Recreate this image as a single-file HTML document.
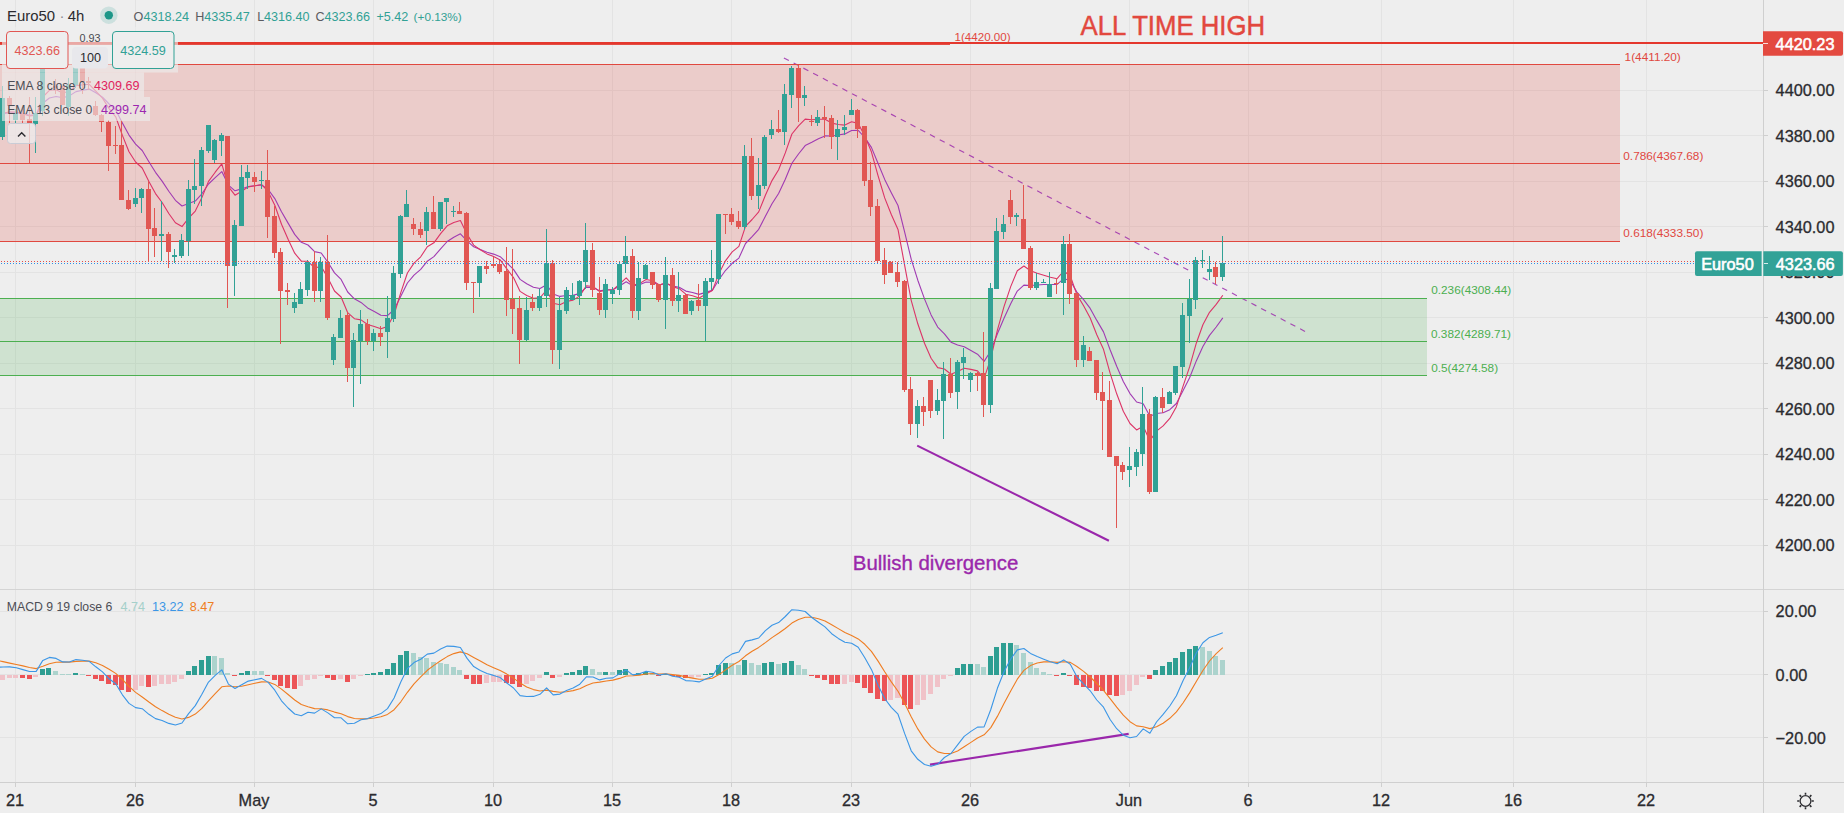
<!DOCTYPE html>
<html lang="en"><head><meta charset="utf-8"><title>Euro50 4h chart</title>
<style>html,body{margin:0;padding:0;background:#eeeeee;}body{width:1844px;height:813px;overflow:hidden;}svg{display:block;}</style>
</head><body>
<svg width="1844" height="813" viewBox="0 0 1844 813" font-family='"Liberation Sans", sans-serif'>
<rect width="1844" height="813" fill="#eeeeee"/>
<path d="M15.5 0V782M135.5 0V782M254.5 0V782M373.5 0V782M493.5 0V782M612.5 0V782M731.5 0V782M851.5 0V782M970.5 0V782M1129.5 0V782M1248.5 0V782M1381.5 0V782M1513.5 0V782M1646.5 0V782M0 545.5H1763M0 499.5H1763M0 454.5H1763M0 408.5H1763M0 363.5H1763M0 317.5H1763M0 272.5H1763M0 226.5H1763M0 181.5H1763M0 135.5H1763M0 90.5H1763M0 611.5H1763M0 674.5H1763M0 737.5H1763" stroke="#e3e3e3" stroke-width="1" fill="none" shape-rendering="crispEdges"/>
<rect x="0" y="64.5" width="1620" height="177" fill="rgba(226,70,62,0.2)"/>
<rect x="0" y="298.5" width="1427" height="77" fill="rgba(76,175,80,0.19)"/>
<line x1="783.9" y1="57.9" x2="1305" y2="331.4" stroke="#9a27ab" stroke-opacity="0.82" stroke-width="1.15" stroke-dasharray="5.6 5.4"/>
<path d="M0 64.5H1620M0 163.5H1620M0 241.5H1620" stroke="#e0483f" stroke-width="1" shape-rendering="crispEdges"/>
<path d="M0 298.5H1427M0 341.5H1427M0 375.5H1427" stroke="#4caf50" stroke-width="1" shape-rendering="crispEdges"/>
<rect x="0" y="42" width="1764" height="2" fill="#e4372d"/>
<rect x="0" y="44" width="950" height="1" fill="#e34c42"/>
<polyline points="-3.6,114.9 3.0,113.8 9.7,112.7 16.3,112.8 22.9,113.8 29.5,115.2 36.2,114.9 42.8,103.2 49.4,98.0 56.1,96.5 62.7,97.7 69.3,95.9 76.0,91.6 82.6,90.2 89.2,89.1 95.8,92.8 102.5,97.1 109.1,104.0 115.7,109.9 122.4,122.9 129.0,135.1 135.6,144.1 142.2,150.5 148.9,161.7 155.5,172.3 162.1,181.1 168.8,191.2 175.4,200.3 182.0,206.0 188.6,203.6 195.3,201.1 201.9,193.8 208.5,184.0 215.2,177.7 221.8,171.6 228.4,185.1 235.0,190.8 241.7,188.9 248.3,186.5 254.9,185.8 261.6,185.0 268.2,189.5 274.8,198.6 281.5,211.7 288.1,223.1 294.7,234.4 301.3,242.3 308.0,245.0 314.6,251.6 321.2,253.0 327.9,262.2 334.5,272.9 341.1,279.4 347.7,292.0 354.4,298.8 361.0,302.4 367.6,307.9 374.3,311.5 380.9,315.2 387.5,315.6 394.1,309.5 400.8,296.2 407.4,283.0 414.0,275.2 420.7,269.4 427.3,261.2 433.9,256.6 440.6,248.8 447.2,241.5 453.8,237.2 460.4,233.8 467.1,240.8 473.7,246.8 480.3,249.5 487.0,252.3 493.6,254.1 500.2,256.7 506.8,262.8 513.5,269.4 520.1,279.4 526.7,283.8 533.4,287.2 540.0,288.5 546.6,284.8 553.2,294.1 559.9,296.4 566.5,295.5 573.1,295.4 579.8,293.4 586.4,287.2 593.0,287.5 599.6,290.7 606.3,289.7 612.9,289.7 619.5,286.0 626.2,281.8 632.8,285.9 639.4,284.8 646.1,282.0 652.7,282.4 659.3,284.9 665.9,283.5 672.6,286.0 679.2,287.3 685.8,291.1 692.5,292.5 699.1,294.4 705.7,292.4 712.3,290.4 719.0,279.5 725.6,270.3 732.2,263.3 738.9,258.1 745.5,243.5 752.1,236.7 758.7,229.3 765.4,216.2 772.0,203.7 778.6,193.5 785.3,179.2 791.9,163.3 798.5,154.0 805.2,145.6 811.8,142.3 818.4,138.7 825.0,135.9 831.7,136.0 838.3,135.0 844.9,133.9 851.6,130.5 858.2,130.3 864.8,137.5 871.4,147.4 878.1,163.5 884.7,179.4 891.3,192.7 898.0,205.5 904.6,231.8 911.2,259.2 917.8,280.2 924.5,298.9 931.1,314.9 937.7,327.1 944.4,333.8 951.0,342.2 957.6,345.0 964.2,346.8 970.9,350.5 977.5,354.2 984.1,361.4 990.8,351.0 997.4,333.8 1004.0,318.2 1010.7,303.7 1017.3,291.1 1023.9,285.1 1030.5,285.5 1037.2,285.0 1043.8,284.5 1050.4,284.5 1057.1,284.4 1063.7,278.6 1070.3,280.8 1076.9,292.1 1083.6,299.6 1090.2,308.4 1096.8,320.4 1103.5,331.9 1110.1,349.7 1116.7,366.3 1123.3,381.5 1130.0,393.6 1136.6,402.0 1143.2,403.7 1149.9,416.2 1156.5,413.5 1163.1,412.7 1169.8,409.7 1176.4,403.5 1183.0,390.8 1189.6,377.7 1196.3,360.9 1202.9,346.5 1209.5,335.4 1216.2,327.0 1222.8,317.9" fill="none" stroke="#a03ab2" stroke-width="1.1" stroke-linejoin="round"/>
<polyline points="-3.6,114.8 3.0,113.3 9.7,111.8 16.3,112.0 22.9,113.8 29.5,116.0 36.2,115.3 42.8,97.0 49.4,90.3 56.1,89.7 62.7,93.0 69.3,91.3 76.0,85.7 82.6,84.7 89.2,84.3 95.8,91.2 102.5,98.1 109.1,108.6 115.7,116.8 122.4,135.4 129.0,151.7 135.6,162.0 142.2,168.0 148.9,181.6 155.5,193.6 162.1,202.5 168.8,213.5 175.4,222.8 182.0,226.6 188.6,218.2 195.3,211.1 201.9,197.6 208.5,181.4 215.2,172.2 221.8,163.9 228.4,186.6 235.0,195.2 241.7,191.2 248.3,186.9 254.9,185.8 261.6,184.5 268.2,191.7 274.8,205.3 281.5,224.3 288.1,239.2 294.7,253.2 301.3,261.2 308.0,261.3 314.6,267.9 321.2,266.5 327.9,277.9 334.5,291.0 341.1,297.0 347.7,312.7 354.4,318.7 361.0,319.9 367.6,324.5 374.3,326.5 380.9,328.8 387.5,326.4 394.1,314.6 400.8,292.7 407.4,273.0 414.0,263.1 420.7,256.8 427.3,246.8 433.9,242.8 440.6,233.7 447.2,225.8 453.8,222.5 460.4,220.5 467.1,234.3 473.7,245.1 480.3,249.7 487.0,253.9 493.6,256.5 500.2,259.9 506.8,268.8 513.5,277.6 520.1,291.4 526.7,295.5 533.4,298.3 540.0,297.8 546.6,290.0 553.2,303.3 559.9,304.8 566.5,301.5 573.1,300.1 579.8,295.9 586.4,285.7 593.0,286.5 599.6,291.6 606.3,290.0 612.9,289.9 619.5,284.1 626.2,277.9 632.8,285.2 639.4,283.6 646.1,279.5 652.7,280.7 659.3,284.9 665.9,282.8 672.6,286.8 679.2,288.6 685.8,294.2 692.5,295.7 699.1,297.9 705.7,294.2 712.3,290.6 719.0,273.6 725.6,260.6 732.2,251.9 738.9,246.3 745.5,226.3 752.1,219.5 758.7,211.9 765.4,195.2 772.0,180.6 778.6,169.7 785.3,152.9 791.9,134.0 798.5,125.9 805.2,119.1 811.8,119.8 818.4,119.2 825.0,119.2 831.7,123.1 838.3,124.5 844.9,125.1 851.6,121.8 858.2,123.4 864.8,136.1 871.4,151.8 878.1,175.9 884.7,197.9 891.3,214.5 898.0,229.4 904.6,265.1 911.2,300.3 917.8,323.8 924.5,343.3 931.1,358.3 937.7,367.6 944.4,369.0 951.0,374.3 957.6,371.6 964.2,368.3 970.9,369.4 977.5,370.9 984.1,378.4 990.8,358.4 997.4,330.1 1004.0,306.6 1010.7,286.6 1017.3,270.8 1023.9,266.0 1030.5,270.8 1037.2,273.3 1043.8,275.2 1050.4,277.2 1057.1,278.7 1063.7,271.0 1070.3,276.0 1076.9,294.6 1083.6,305.8 1090.2,318.0 1096.8,334.7 1103.5,349.3 1110.1,373.2 1116.7,393.8 1123.3,411.3 1130.0,423.5 1136.6,429.9 1143.2,426.3 1149.9,440.8 1156.5,431.1 1163.1,425.9 1169.8,418.4 1176.4,406.7 1183.0,386.4 1189.6,366.9 1196.3,343.2 1202.9,324.7 1209.5,312.3 1216.2,304.4 1222.8,295.2" fill="none" stroke="#dc3467" stroke-width="1.1" stroke-linejoin="round"/>
<path d="M2 86h1V140h-1zM0 98h5V137h-5zM15 109h1V123h-1zM13 113h5V120h-5zM35 97h1V153h-1zM33 113h5V124h-5zM42 32h1V116h-1zM40 33h5V111h-5zM68 78h1V116h-1zM66 85h5V107h-5zM75 64h1V88h-1zM73 66h5V85h-5zM135 188h1V207h-1zM133 198h5V204h-5zM141 188h1V213h-1zM139 189h5V198h-5zM161 201h1V261h-1zM159 234h5V236h-5zM174 249h1V263h-1zM172 255h5V257h-5zM181 234h1V258h-1zM179 240h5V256h-5zM188 180h1V256h-1zM186 189h5V241h-5zM194 159h1V204h-1zM192 186h5V190h-5zM201 147h1V206h-1zM199 150h5V186h-5zM208 125h1V153h-1zM206 125h5V151h-5zM214 139h1V163h-1zM212 140h5V160h-5zM221 133h1V156h-1zM219 135h5V141h-5zM234 220h1V296h-1zM232 225h5V266h-5zM241 165h1V226h-1zM239 177h5V226h-5zM247 165h1V189h-1zM245 172h5V178h-5zM261 171h1V189h-1zM259 180h5V181h-5zM294 293h1V313h-1zM292 302h5V308h-5zM300 282h1V304h-1zM298 289h5V304h-5zM307 260h1V296h-1zM305 262h5V290h-5zM320 257h1V302h-1zM318 262h5V291h-5zM333 334h1V365h-1zM331 337h5V360h-5zM340 310h1V338h-1zM338 318h5V338h-5zM353 333h1V407h-1zM351 340h5V368h-5zM360 310h1V384h-1zM358 324h5V341h-5zM373 329h1V351h-1zM371 333h5V341h-5zM387 296h1V358h-1zM385 318h5V332h-5zM393 266h1V322h-1zM391 273h5V319h-5zM400 215h1V278h-1zM398 216h5V274h-5zM406 190h1V217h-1zM404 204h5V217h-5zM426 207h1V245h-1zM424 212h5V231h-5zM440 202h1V231h-1zM438 202h5V229h-5zM446 198h1V224h-1zM444 198h5V202h-5zM453 206h1V217h-1zM451 211h5V212h-5zM479 266h1V297h-1zM477 266h5V283h-5zM526 297h1V341h-1zM524 310h5V340h-5zM539 289h1V311h-1zM537 296h5V308h-5zM546 229h1V307h-1zM544 263h5V296h-5zM559 297h1V369h-1zM557 310h5V350h-5zM566 287h1V314h-1zM564 290h5V311h-5zM572 283h1V300h-1zM570 295h5V300h-5zM579 280h1V305h-1zM577 281h5V296h-5zM585 223h1V289h-1zM583 250h5V282h-5zM605 279h1V318h-1zM603 284h5V310h-5zM612 287h1V304h-1zM610 290h5V294h-5zM619 261h1V295h-1zM617 264h5V290h-5zM625 236h1V273h-1zM623 256h5V264h-5zM638 262h1V320h-1zM636 278h5V311h-5zM645 264h1V279h-1zM643 265h5V279h-5zM665 257h1V329h-1zM663 275h5V300h-5zM678 272h1V312h-1zM676 295h5V301h-5zM691 300h1V315h-1zM689 301h5V311h-5zM705 278h1V341h-1zM703 281h5V306h-5zM711 250h1V290h-1zM709 278h5V282h-5zM718 214h1V284h-1zM716 214h5V279h-5zM744 145h1V230h-1zM742 156h5V227h-5zM758 158h1V209h-1zM756 185h5V196h-5zM764 135h1V189h-1zM762 137h5V186h-5zM771 120h1V139h-1zM769 129h5V135h-5zM784 84h1V145h-1zM782 94h5V132h-5zM791 66h1V108h-1zM789 68h5V95h-5zM804 86h1V106h-1zM802 95h5V98h-5zM817 110h1V126h-1zM815 117h5V123h-5zM837 120h1V160h-1zM835 129h5V137h-5zM844 115h1V135h-1zM842 127h5V130h-5zM851 99h1V115h-1zM849 110h5V115h-5zM917 400h1V438h-1zM915 406h5V424h-5zM937 389h1V415h-1zM935 400h5V411h-5zM943 362h1V439h-1zM941 374h5V401h-5zM957 360h1V409h-1zM955 362h5V392h-5zM963 348h1V379h-1zM961 357h5V363h-5zM970 372h1V392h-1zM968 373h5V380h-5zM990 283h1V413h-1zM988 288h5V405h-5zM996 218h1V289h-1zM994 231h5V289h-5zM1003 215h1V239h-1zM1001 224h5V232h-5zM1016 213h1V226h-1zM1014 215h5V217h-5zM1036 273h1V290h-1zM1034 282h5V288h-5zM1043 279h1V283h-1zM1041 282h5V283h-5zM1049 272h1V297h-1zM1047 284h5V297h-5zM1063 236h1V315h-1zM1061 244h5V283h-5zM1083 336h1V367h-1zM1081 345h5V360h-5zM1129 447h1V487h-1zM1127 466h5V470h-5zM1136 449h1V476h-1zM1134 452h5V467h-5zM1142 387h1V466h-1zM1140 414h5V454h-5zM1155 396h1V492h-1zM1153 397h5V492h-5zM1169 391h1V404h-1zM1167 392h5V404h-5zM1175 366h1V395h-1zM1173 366h5V393h-5zM1182 303h1V378h-1zM1180 315h5V367h-5zM1189 279h1V343h-1zM1187 299h5V316h-5zM1195 257h1V309h-1zM1193 260h5V300h-5zM1202 250h1V268h-1zM1200 260h5V261h-5zM1209 256h1V280h-1zM1207 269h5V272h-5zM1222 236h1V281h-1zM1220 263h5V277h-5z" fill="#31a195" shape-rendering="crispEdges"/>
<path d="M9 96h1V123h-1zM7 98h5V106h-5zM22 109h1V123h-1zM20 114h5V120h-5zM29 97h1V163h-1zM27 119h5V123h-5zM48 33h1V68h-1zM46 34h5V67h-5zM55 79h1V94h-1zM53 86h5V88h-5zM62 86h1V105h-1zM60 86h5V105h-5zM82 64h1V94h-1zM80 66h5V82h-5zM88 77h1V90h-1zM86 81h5V83h-5zM95 101h1V116h-1zM93 106h5V115h-5zM101 114h1V132h-1zM99 115h5V122h-5zM108 120h1V171h-1zM106 122h5V146h-5zM115 126h1V154h-1zM113 145h5V146h-5zM121 120h1V200h-1zM119 145h5V200h-5zM128 190h1V210h-1zM126 200h5V209h-5zM148 181h1V262h-1zM146 189h5V229h-5zM154 208h1V257h-1zM152 228h5V236h-5zM168 232h1V268h-1zM166 234h5V252h-5zM227 136h1V308h-1zM225 136h5V266h-5zM254 172h1V192h-1zM252 177h5V182h-5zM267 150h1V238h-1zM265 180h5V217h-5zM274 206h1V258h-1zM272 216h5V253h-5zM280 248h1V344h-1zM278 252h5V291h-5zM287 283h1V305h-1zM285 290h5V292h-5zM314 251h1V302h-1zM312 262h5V291h-5zM327 235h1V320h-1zM325 262h5V318h-5zM347 312h1V382h-1zM345 315h5V368h-5zM367 319h1V345h-1zM365 324h5V341h-5zM380 326h1V346h-1zM378 333h5V337h-5zM413 218h1V235h-1zM411 224h5V229h-5zM420 222h1V238h-1zM418 229h5V235h-5zM433 196h1V229h-1zM431 212h5V229h-5zM459 202h1V214h-1zM457 211h5V214h-5zM466 212h1V290h-1zM464 213h5V283h-5zM473 282h1V313h-1zM471 282h5V283h-5zM486 261h1V274h-1zM484 266h5V269h-5zM493 257h1V268h-1zM491 264h5V266h-5zM499 260h1V274h-1zM497 264h5V272h-5zM506 247h1V316h-1zM504 271h5V300h-5zM512 249h1V334h-1zM510 299h5V309h-5zM519 296h1V364h-1zM517 308h5V340h-5zM532 294h1V311h-1zM530 302h5V308h-5zM552 260h1V364h-1zM550 263h5V350h-5zM592 243h1V297h-1zM590 250h5V290h-5zM599 277h1V315h-1zM597 293h5V310h-5zM632 249h1V318h-1zM630 256h5V311h-5zM652 272h1V289h-1zM650 272h5V285h-5zM658 284h1V302h-1zM656 284h5V300h-5zM672 268h1V306h-1zM670 275h5V301h-5zM685 294h1V314h-1zM683 295h5V314h-5zM698 284h1V311h-1zM696 300h5V306h-5zM725 214h1V234h-1zM723 214h5V215h-5zM731 208h1V225h-1zM729 214h5V222h-5zM738 211h1V229h-1zM736 221h5V227h-5zM751 138h1V200h-1zM749 156h5V196h-5zM778 110h1V133h-1zM776 129h5V132h-5zM798 65h1V122h-1zM796 68h5V98h-5zM811 115h1V126h-1zM809 121h5V122h-5zM824 106h1V138h-1zM822 117h5V119h-5zM831 115h1V149h-1zM829 118h5V137h-5zM857 109h1V138h-1zM855 110h5V129h-5zM864 126h1V186h-1zM862 126h5V181h-5zM870 162h1V216h-1zM868 180h5V207h-5zM877 199h1V263h-1zM875 206h5V261h-5zM884 248h1V284h-1zM882 260h5V275h-5zM890 261h1V273h-1zM888 262h5V273h-5zM897 262h1V287h-1zM895 272h5V282h-5zM904 280h1V392h-1zM902 281h5V390h-5zM910 377h1V435h-1zM908 389h5V424h-5zM923 397h1V426h-1zM921 406h5V412h-5zM930 380h1V418h-1zM928 380h5V411h-5zM950 358h1V398h-1zM948 374h5V393h-5zM977 372h1V391h-1zM975 373h5V376h-5zM983 332h1V417h-1zM981 373h5V405h-5zM1010 190h1V224h-1zM1008 200h5V217h-5zM1023 185h1V249h-1zM1021 219h5V249h-5zM1030 246h1V290h-1zM1028 248h5V288h-5zM1056 278h1V294h-1zM1054 283h5V284h-5zM1069 234h1V304h-1zM1067 244h5V294h-5zM1076 293h1V367h-1zM1074 293h5V360h-5zM1089 347h1V361h-1zM1087 351h5V361h-5zM1096 360h1V400h-1zM1094 360h5V393h-5zM1102 372h1V450h-1zM1100 392h5V401h-5zM1109 381h1V457h-1zM1107 400h5V457h-5zM1116 456h1V528h-1zM1114 456h5V466h-5zM1122 462h1V480h-1zM1120 465h5V472h-5zM1149 409h1V494h-1zM1147 414h5V492h-5zM1162 388h1V413h-1zM1160 397h5V408h-5zM1215 262h1V284h-1zM1213 267h5V277h-5z" fill="#e15753" shape-rendering="crispEdges"/>
<path d="M1 261.5H1694" stroke="#e2504b" stroke-width="1" stroke-dasharray="1 2" fill="none" shape-rendering="crispEdges"/>
<path d="M1 263.5H1694" stroke="#2f8fe6" stroke-width="1" stroke-dasharray="1 2" fill="none" shape-rendering="crispEdges"/>
<line x1="917.2" y1="445.6" x2="1108.9" y2="540.7" stroke="#9a27ab" stroke-width="2.1"/>
<line x1="930" y1="764.6" x2="1128.7" y2="733.9" stroke="#9a27ab" stroke-width="2.1"/>
<text transform="translate(1080.6,35.1) scale(1,1.07)" font-size="25.75" fill="#e2483e" stroke="#e2483e" stroke-width="0.45">ALL TIME HIGH</text>
<text x="954.5" y="41.2" font-size="11.6" fill="#e2483e">1(4420.00)</text>
<text x="852.8" y="569.8" font-size="20.4" fill="#9a27ab" stroke="#9a27ab" stroke-width="0.35">Bullish divergence</text>
<text x="1624.6" y="60.5" font-size="11.8" fill="#e0483f">1(4411.20)</text>
<text x="1623.3" y="159.7" font-size="11.8" fill="#e0483f">0.786(4367.68)</text>
<text x="1623.3" y="237.3" font-size="11.8" fill="#e0483f">0.618(4333.50)</text>
<text x="1431.2" y="294.3" font-size="11.8" fill="#4caf50">0.236(4308.44)</text>
<text x="1431" y="337.7" font-size="11.8" fill="#4caf50">0.382(4289.71)</text>
<text x="1431.2" y="371.5" font-size="11.8" fill="#4caf50">0.5(4274.58)</text>
<path d="M40 669h5V675h-5zM46 668h5V675h-5zM73 673h5V675h-5zM186 671h5V675h-5zM192 666h5V675h-5zM199 660h5V675h-5zM206 656h5V675h-5zM239 673h5V675h-5zM245 671h5V675h-5zM365 674h5V675h-5zM371 673h5V675h-5zM378 672h5V675h-5zM385 669h5V675h-5zM391 663h5V675h-5zM398 655h5V675h-5zM404 651h5V675h-5zM544 672h5V675h-5zM564 673h5V675h-5zM570 672h5V675h-5zM577 670h5V675h-5zM583 666h5V675h-5zM603 672h5V675h-5zM617 670h5V675h-5zM623 669h5V675h-5zM636 673h5V675h-5zM643 672h5V675h-5zM663 674h5V675h-5zM703 674h5V675h-5zM709 673h5V675h-5zM716 665h5V675h-5zM723 663h5V675h-5zM742 660h5V675h-5zM762 663h5V675h-5zM769 662h5V675h-5zM782 663h5V675h-5zM789 661h5V675h-5zM955 668h5V675h-5zM961 664h5V675h-5zM968 664h5V675h-5zM988 656h5V675h-5zM994 647h5V675h-5zM1001 643h5V675h-5zM1008 643h5V675h-5zM1061 673h5V675h-5zM1153 670h5V675h-5zM1160 666h5V675h-5zM1167 662h5V675h-5zM1173 658h5V675h-5zM1180 652h5V675h-5zM1187 649h5V675h-5zM1193 646h5V675h-5z" fill="#2e9e92" shape-rendering="crispEdges"/>
<path d="M53 671h5V675h-5zM60 674h5V675h-5zM66 674h5V675h-5zM80 674h5V675h-5zM212 656h5V675h-5zM219 658h5V675h-5zM225 673h5V675h-5zM252 671h5V675h-5zM259 671h5V675h-5zM411 653h5V675h-5zM418 657h5V675h-5zM424 658h5V675h-5zM431 662h5V675h-5zM438 663h5V675h-5zM444 664h5V675h-5zM451 667h5V675h-5zM457 670h5V675h-5zM590 669h5V675h-5zM597 672h5V675h-5zM610 672h5V675h-5zM630 674h5V675h-5zM650 673h5V675h-5zM729 663h5V675h-5zM736 665h5V675h-5zM749 663h5V675h-5zM756 665h5V675h-5zM776 664h5V675h-5zM796 665h5V675h-5zM802 669h5V675h-5zM975 664h5V675h-5zM981 667h5V675h-5zM1014 645h5V675h-5zM1021 653h5V675h-5zM1028 662h5V675h-5zM1034 668h5V675h-5zM1041 672h5V675h-5zM1047 674h5V675h-5zM1200 647h5V675h-5zM1207 651h5V675h-5zM1213 656h5V675h-5zM1220 660h5V675h-5z" fill="#acd3cd" shape-rendering="crispEdges"/>
<path d="M20 675h5V678h-5zM27 675h5V679h-5zM86 675h5V676h-5zM93 675h5V679h-5zM99 675h5V681h-5zM106 675h5V684h-5zM113 675h5V685h-5zM119 675h5V690h-5zM126 675h5V692h-5zM146 675h5V687h-5zM232 675h5V676h-5zM265 675h5V676h-5zM272 675h5V680h-5zM278 675h5V686h-5zM285 675h5V688h-5zM292 675h5V689h-5zM325 675h5V678h-5zM331 675h5V680h-5zM345 675h5V682h-5zM464 675h5V679h-5zM471 675h5V684h-5zM477 675h5V684h-5zM504 675h5V683h-5zM510 675h5V684h-5zM517 675h5V687h-5zM550 675h5V678h-5zM656 675h5V676h-5zM670 675h5V676h-5zM676 675h5V677h-5zM683 675h5V678h-5zM809 675h5V676h-5zM815 675h5V678h-5zM822 675h5V680h-5zM829 675h5V684h-5zM835 675h5V684h-5zM855 675h5V683h-5zM862 675h5V688h-5zM868 675h5V693h-5zM875 675h5V699h-5zM882 675h5V701h-5zM902 675h5V705h-5zM908 675h5V709h-5zM1054 675h5V676h-5zM1067 675h5V676h-5zM1074 675h5V685h-5zM1081 675h5V687h-5zM1087 675h5V688h-5zM1094 675h5V691h-5zM1100 675h5V691h-5zM1107 675h5V695h-5zM1114 675h5V696h-5zM1147 675h5V679h-5z" fill="#ec5356" shape-rendering="crispEdges"/>
<path d="M0 675h5V680h-5zM7 675h5V678h-5zM13 675h5V678h-5zM33 675h5V677h-5zM133 675h5V690h-5zM139 675h5V686h-5zM152 675h5V686h-5zM159 675h5V684h-5zM166 675h5V684h-5zM172 675h5V682h-5zM179 675h5V679h-5zM298 675h5V686h-5zM305 675h5V680h-5zM312 675h5V679h-5zM318 675h5V676h-5zM338 675h5V679h-5zM351 675h5V679h-5zM358 675h5V676h-5zM484 675h5V683h-5zM491 675h5V682h-5zM497 675h5V682h-5zM524 675h5V684h-5zM530 675h5V681h-5zM537 675h5V678h-5zM557 675h5V677h-5zM689 675h5V678h-5zM696 675h5V677h-5zM842 675h5V684h-5zM849 675h5V682h-5zM888 675h5V700h-5zM895 675h5V698h-5zM915 675h5V705h-5zM921 675h5V700h-5zM928 675h5V694h-5zM935 675h5V687h-5zM941 675h5V679h-5zM948 675h5V676h-5zM1120 675h5V695h-5zM1127 675h5V691h-5zM1134 675h5V685h-5zM1140 675h5V677h-5z" fill="#f0c2c8" shape-rendering="crispEdges"/>
<polyline points="-3.6,660.2 3.0,661.6 9.7,663.1 16.3,664.5 22.9,665.9 29.5,667.5 36.2,668.6 42.8,666.3 49.4,663.7 56.1,662.2 62.7,662.1 69.3,662.1 76.0,661.4 82.6,661.1 89.2,661.1 95.8,662.8 102.5,665.4 109.1,669.2 115.7,673.4 122.4,679.5 129.0,686.3 135.6,692.4 142.2,697.0 148.9,702.0 155.5,706.7 162.1,710.6 168.8,714.3 175.4,717.3 182.0,719.0 188.6,717.4 195.3,714.1 201.9,708.4 208.5,700.9 215.2,693.6 221.8,686.8 228.4,686.0 235.0,686.7 241.7,686.2 248.3,684.7 254.9,683.3 261.6,681.9 268.2,682.0 274.8,684.4 281.5,689.1 288.1,694.5 294.7,700.0 301.3,704.5 308.0,706.7 314.6,708.6 321.2,708.7 327.9,709.9 334.5,712.1 341.1,713.8 347.7,716.6 354.4,718.5 361.0,718.9 367.6,718.8 374.3,718.0 380.9,716.7 387.5,714.4 394.1,709.7 400.8,701.8 407.4,692.3 414.0,683.8 420.7,676.8 427.3,670.3 433.9,665.4 440.6,660.7 447.2,656.6 453.8,653.6 460.4,651.9 467.1,653.8 473.7,657.4 480.3,661.1 487.0,664.7 493.6,667.7 500.2,670.6 506.8,674.1 513.5,678.1 520.1,683.1 526.7,686.9 533.4,689.6 540.0,691.0 546.6,690.1 553.2,691.4 559.9,692.2 566.5,691.7 573.1,690.6 579.8,688.8 586.4,685.4 593.0,683.0 599.6,682.1 606.3,681.0 612.9,680.1 619.5,678.4 626.2,676.0 632.8,675.7 639.4,675.1 646.1,674.0 652.7,673.5 659.3,674.0 665.9,673.9 672.6,674.6 679.2,675.4 685.8,676.9 692.5,678.1 699.1,679.2 705.7,679.1 712.3,678.3 719.0,674.6 725.6,669.9 732.2,665.3 738.9,661.5 745.5,655.8 752.1,651.2 758.7,647.4 765.4,642.6 772.0,637.6 778.6,633.3 785.3,628.5 791.9,623.1 798.5,619.4 805.2,617.2 811.8,617.3 818.4,618.7 825.0,621.0 831.7,624.7 838.3,628.6 844.9,632.5 851.6,635.6 858.2,638.9 864.8,644.3 871.4,651.4 878.1,661.1 884.7,671.8 891.3,681.9 898.0,691.2 904.6,703.2 911.2,716.8 917.8,728.9 924.5,739.1 931.1,746.9 937.7,751.9 944.4,753.5 951.0,753.5 957.6,751.0 964.2,746.8 970.9,742.4 977.5,738.0 984.1,734.8 990.8,727.6 997.4,716.4 1004.0,703.6 1010.7,690.9 1017.3,679.2 1023.9,670.4 1030.5,665.6 1037.2,663.0 1043.8,661.9 1050.4,661.8 1057.1,662.4 1063.7,661.7 1070.3,662.4 1076.9,666.5 1083.6,671.4 1090.2,677.0 1096.8,683.5 1103.5,690.3 1110.1,698.6 1116.7,707.2 1123.3,715.2 1130.0,721.7 1136.6,725.9 1143.2,726.8 1149.9,728.6 1156.5,726.7 1163.1,723.2 1169.8,718.3 1176.4,711.9 1183.0,703.0 1189.6,692.9 1196.3,681.5 1202.9,670.5 1209.5,661.0 1216.2,653.7 1222.8,647.7" fill="none" stroke="#ef7d22" stroke-width="1.1" stroke-linejoin="round"/>
<polyline points="-3.6,667.2 3.0,667.0 9.7,666.9 16.3,667.8 22.9,669.6 29.5,671.5 36.2,671.4 42.8,660.4 49.4,657.4 56.1,658.4 62.7,661.9 69.3,662.0 76.0,659.6 82.6,660.3 89.2,661.3 95.8,666.8 102.5,671.9 109.1,678.8 115.7,683.8 122.4,694.8 129.0,703.4 135.6,707.6 142.2,708.7 148.9,714.3 155.5,718.6 162.1,720.5 168.8,723.4 175.4,725.0 182.0,723.0 188.6,713.6 195.3,705.6 201.9,694.2 208.5,682.1 215.2,675.4 221.8,669.8 228.4,684.1 235.0,688.5 241.7,684.7 248.3,681.1 254.9,679.7 261.6,678.4 268.2,682.4 274.8,690.2 281.5,700.8 288.1,708.0 294.7,714.0 301.3,715.7 308.0,712.3 314.6,713.1 321.2,708.9 327.9,712.9 334.5,717.8 341.1,717.8 347.7,723.8 354.4,723.3 361.0,719.8 367.6,718.6 374.3,715.9 380.9,713.6 387.5,708.6 394.1,698.0 400.8,682.0 407.4,668.6 414.0,662.6 420.7,659.3 427.3,654.1 433.9,653.1 440.6,649.0 447.2,646.1 453.8,646.4 460.4,647.5 467.1,658.4 473.7,666.6 480.3,670.4 487.0,673.5 493.6,675.4 500.2,677.6 506.8,683.0 513.5,688.0 520.1,695.6 526.7,696.5 533.4,696.4 540.0,694.3 546.6,687.8 553.2,694.9 559.9,694.1 566.5,690.4 573.1,688.1 579.8,684.2 586.4,676.8 593.0,677.0 599.6,679.9 606.3,678.3 612.9,677.9 619.5,673.9 626.2,670.0 632.8,674.9 639.4,673.8 646.1,671.3 652.7,672.2 659.3,675.1 665.9,673.7 672.6,676.3 679.2,677.3 685.8,680.6 692.5,681.0 699.1,681.9 705.7,679.0 712.3,676.3 719.0,665.5 725.6,658.0 732.2,653.9 738.9,652.0 745.5,641.4 752.1,639.9 758.7,638.0 765.4,630.6 772.0,625.2 778.6,622.6 785.3,616.5 791.9,609.7 798.5,610.2 805.2,611.5 811.8,617.5 818.4,622.2 825.0,626.9 831.7,633.7 838.3,638.4 844.9,642.2 851.6,643.2 858.2,647.2 864.8,657.8 871.4,669.4 878.1,685.3 884.7,698.5 891.3,707.3 898.0,714.2 904.6,733.4 911.2,750.8 917.8,759.3 924.5,764.5 931.1,766.3 937.7,764.3 944.4,757.5 951.0,753.5 957.6,744.8 964.2,736.4 970.9,731.4 977.5,727.1 984.1,726.9 990.8,709.5 997.4,688.3 1004.0,671.8 1010.7,659.0 1017.3,649.9 1023.9,648.5 1030.5,653.4 1037.2,656.6 1043.8,659.2 1050.4,661.7 1057.1,663.7 1063.7,659.9 1070.3,664.3 1076.9,676.8 1083.6,683.8 1090.2,690.8 1096.8,700.0 1103.5,707.2 1110.1,719.5 1116.7,728.7 1123.3,735.2 1130.0,737.8 1136.6,736.5 1143.2,728.9 1149.9,733.2 1156.5,722.0 1163.1,714.4 1169.8,706.0 1176.4,695.7 1183.0,680.8 1189.6,667.7 1196.3,653.0 1202.9,642.8 1209.5,637.4 1216.2,635.3 1222.8,632.7" fill="none" stroke="#3b96e6" stroke-width="1.1" stroke-linejoin="round"/>
<rect x="0" y="589" width="1844" height="1" fill="#d4d4d4"/>
<rect x="1764" y="0" width="80" height="782" fill="#eeeeee"/>
<rect x="1763" y="0" width="1" height="813" fill="#cfcfcf"/>
<rect x="1764" y="589" width="80" height="1" fill="#d4d4d4"/>
<text x="1775.6" y="551.1" font-size="16.3" fill="#2b2b2f" stroke="#2b2b2f" stroke-width="0.3">4200.00</text>
<text x="1775.6" y="505.7" font-size="16.3" fill="#2b2b2f" stroke="#2b2b2f" stroke-width="0.3">4220.00</text>
<text x="1775.6" y="460.2" font-size="16.3" fill="#2b2b2f" stroke="#2b2b2f" stroke-width="0.3">4240.00</text>
<text x="1775.6" y="414.7" font-size="16.3" fill="#2b2b2f" stroke="#2b2b2f" stroke-width="0.3">4260.00</text>
<text x="1775.6" y="369.2" font-size="16.3" fill="#2b2b2f" stroke="#2b2b2f" stroke-width="0.3">4280.00</text>
<text x="1775.6" y="323.8" font-size="16.3" fill="#2b2b2f" stroke="#2b2b2f" stroke-width="0.3">4300.00</text>
<text x="1775.6" y="278.3" font-size="16.3" fill="#2b2b2f" stroke="#2b2b2f" stroke-width="0.3">4320.00</text>
<text x="1775.6" y="232.8" font-size="16.3" fill="#2b2b2f" stroke="#2b2b2f" stroke-width="0.3">4340.00</text>
<text x="1775.6" y="187.3" font-size="16.3" fill="#2b2b2f" stroke="#2b2b2f" stroke-width="0.3">4360.00</text>
<text x="1775.6" y="141.9" font-size="16.3" fill="#2b2b2f" stroke="#2b2b2f" stroke-width="0.3">4380.00</text>
<text x="1775.6" y="96.4" font-size="16.3" fill="#2b2b2f" stroke="#2b2b2f" stroke-width="0.3">4400.00</text>
<text x="1775.6" y="617.3" font-size="16.3" fill="#2b2b2f" stroke="#2b2b2f" stroke-width="0.3">20.00</text>
<text x="1775.6" y="680.5" font-size="16.3" fill="#2b2b2f" stroke="#2b2b2f" stroke-width="0.3">0.00</text>
<text x="1775.6" y="743.7" font-size="16.3" fill="#2b2b2f" stroke="#2b2b2f" stroke-width="0.3">−20.00</text>
<path d="M1764 545.5h4M1764 499.5h4M1764 454.5h4M1764 408.5h4M1764 363.5h4M1764 317.5h4M1764 272.5h4M1764 226.5h4M1764 181.5h4M1764 135.5h4M1764 90.5h4M1764 611.5h4M1764 674.5h4M1764 737.5h4" stroke="#cfcfcf" stroke-width="1" shape-rendering="crispEdges"/>
<path d="M1763 31.2h78a2 2 0 0 1 2 2v20.6a2 2 0 0 1 -2 2h-78z" fill="#e34a40"/>
<path d="M1763 43.5h5" stroke="#fff" stroke-opacity="0.8"/>
<text x="1775.6" y="49.7" font-size="16.3" fill="#fff" stroke="#fff" stroke-width="0.55">4420.23</text>
<path d="M1761.8 251.2h-64.8a2 2 0 0 0 -2 2v20.7a2 2 0 0 0 2 2h64.8z" fill="#32a297"/>
<rect x="1761.8" y="251.2" width="1.5" height="24.7" fill="#e6f0ee"/>
<text x="1701.2" y="269.8" font-size="16.3" fill="#fff" stroke="#fff" stroke-width="0.6">Euro50</text>
<path d="M1763.3 251.2h77.6a2 2 0 0 1 2 2v20.7a2 2 0 0 1 -2 2h-77.6z" fill="#32a297"/>
<path d="M1764 263.5h4" stroke="#fff" stroke-opacity="0.8"/>
<text x="1775.8" y="269.8" font-size="16.3" fill="#fff" stroke="#fff" stroke-width="0.55">4323.66</text>
<rect x="0" y="782" width="1844" height="31" fill="#eeeeee"/>
<rect x="0" y="782" width="1844" height="1" fill="#cfcfcf"/>
<rect x="1763" y="782" width="1" height="31" fill="#cfcfcf"/>
<path d="M15.5 783v4M135.5 783v4M254.5 783v4M373.5 783v4M493.5 783v4M612.5 783v4M731.5 783v4M851.5 783v4M970.5 783v4M1129.5 783v4M1248.5 783v4M1381.5 783v4M1513.5 783v4M1646.5 783v4" stroke="#cfcfcf" stroke-width="1" shape-rendering="crispEdges"/>
<text x="15.0" y="806" font-size="16.3" text-anchor="middle" fill="#2b2b2f" stroke="#2b2b2f" stroke-width="0.3">21</text>
<text x="135.0" y="806" font-size="16.3" text-anchor="middle" fill="#2b2b2f" stroke="#2b2b2f" stroke-width="0.3">26</text>
<text x="254.0" y="806" font-size="16.3" text-anchor="middle" fill="#2b2b2f" stroke="#2b2b2f" stroke-width="0.3">May</text>
<text x="373.0" y="806" font-size="16.3" text-anchor="middle" fill="#2b2b2f" stroke="#2b2b2f" stroke-width="0.3">5</text>
<text x="493.0" y="806" font-size="16.3" text-anchor="middle" fill="#2b2b2f" stroke="#2b2b2f" stroke-width="0.3">10</text>
<text x="612.0" y="806" font-size="16.3" text-anchor="middle" fill="#2b2b2f" stroke="#2b2b2f" stroke-width="0.3">15</text>
<text x="731.0" y="806" font-size="16.3" text-anchor="middle" fill="#2b2b2f" stroke="#2b2b2f" stroke-width="0.3">18</text>
<text x="851.0" y="806" font-size="16.3" text-anchor="middle" fill="#2b2b2f" stroke="#2b2b2f" stroke-width="0.3">23</text>
<text x="970.0" y="806" font-size="16.3" text-anchor="middle" fill="#2b2b2f" stroke="#2b2b2f" stroke-width="0.3">26</text>
<text x="1129.0" y="806" font-size="16.3" text-anchor="middle" fill="#2b2b2f" stroke="#2b2b2f" stroke-width="0.3">Jun</text>
<text x="1248.0" y="806" font-size="16.3" text-anchor="middle" fill="#2b2b2f" stroke="#2b2b2f" stroke-width="0.3">6</text>
<text x="1381.0" y="806" font-size="16.3" text-anchor="middle" fill="#2b2b2f" stroke="#2b2b2f" stroke-width="0.3">12</text>
<text x="1513.0" y="806" font-size="16.3" text-anchor="middle" fill="#2b2b2f" stroke="#2b2b2f" stroke-width="0.3">16</text>
<text x="1646.0" y="806" font-size="16.3" text-anchor="middle" fill="#2b2b2f" stroke="#2b2b2f" stroke-width="0.3">22</text>
<circle cx="1805.5" cy="801" r="5.4" fill="none" stroke="#2b2b2f" stroke-width="1.3"/><path d="M1811.70 801.00L1813.80 801.00M1809.88 805.38L1811.37 806.87M1805.50 807.20L1805.50 809.30M1801.12 805.38L1799.63 806.87M1799.30 801.00L1797.20 801.00M1801.12 796.62L1799.63 795.13M1805.50 794.80L1805.50 792.70M1809.88 796.62L1811.37 795.13" stroke="#2b2b2f" stroke-width="1.6"/>
<rect x="2" y="27" width="176" height="45.5" fill="#eeeeee" fill-opacity="0.62"/>
<rect x="2" y="72.5" width="142" height="24.5" fill="#eeeeee" fill-opacity="0.62"/>
<rect x="2" y="97" width="148" height="24" fill="#eeeeee" fill-opacity="0.62"/>
<text x="7" y="20.8" font-size="14.9" fill="#2b2b2f">Euro50</text>
<text x="59.6" y="20.8" font-size="14.9" fill="#8a8a90">·</text>
<text x="67.8" y="20.8" font-size="14.9" fill="#2b2b2f">4h</text>
<circle cx="108.8" cy="15.2" r="8.7" fill="#31a195" fill-opacity="0.18"/><circle cx="108.8" cy="15.2" r="4.2" fill="#1c9688"/>
<text x="133.4" y="20.8" font-size="12.6" fill="#5a5a60">O</text>
<text x="143.6" y="20.8" font-size="12.6" fill="#31a195">4318.24</text>
<text x="195.2" y="20.8" font-size="12.6" fill="#5a5a60">H</text>
<text x="204.2" y="20.8" font-size="12.6" fill="#31a195">4335.47</text>
<text x="257.2" y="20.8" font-size="12.6" fill="#5a5a60">L</text>
<text x="264.0" y="20.8" font-size="12.6" fill="#31a195">4316.40</text>
<text x="315.6" y="20.8" font-size="12.6" fill="#5a5a60">C</text>
<text x="324.4" y="20.8" font-size="12.6" fill="#31a195">4323.66</text>
<text x="376.4" y="20.8" font-size="12.6" fill="#31a195">+5.42</text>
<text x="413.6" y="20.8" font-size="11.8" fill="#31a195">(+0.13%)</text>
<rect x="6.5" y="31.5" width="61.5" height="37" rx="3.5" fill="#eeeeee" stroke="#e15753" stroke-width="1"/>
<text x="37.2" y="55" font-size="12.6" text-anchor="middle" fill="#e15753">4323.66</text>
<text x="90" y="42" font-size="10.8" text-anchor="middle" fill="#4a4a50">0.93</text>
<rect x="72" y="47" width="36" height="21.5" rx="4" fill="#e8e8ec"/>
<text x="90.5" y="62" font-size="12.6" text-anchor="middle" fill="#2b2b2f">100</text>
<rect x="112.5" y="31.5" width="61.5" height="37" rx="3.5" fill="#eeeeee" stroke="#31a195" stroke-width="1"/>
<text x="143" y="55" font-size="12.6" text-anchor="middle" fill="#31a195">4324.59</text>
<text x="7.2" y="89.8" font-size="12.25" fill="#4c4d55">EMA 8 close 0</text>
<text x="94" y="89.8" font-size="12.6" fill="#e0245e">4309.69</text>
<text x="7.2" y="113.8" font-size="12.25" fill="#4c4d55">EMA 13 close 0</text>
<text x="101" y="113.8" font-size="12.6" fill="#9c27b0">4299.74</text>
<rect x="7.5" y="123.5" width="28" height="20" rx="3" fill="#eeeeee" fill-opacity="0.75" stroke="#c9ccd6" stroke-width="1"/>
<path d="M18 136.5l3.7-3.7 3.7 3.7" fill="none" stroke="#2b2b2f" stroke-width="1.4"/>
<text x="6.8" y="611.2" font-size="12.25" fill="#4c4d55">MACD 9 19 close 6</text>
<text x="120.4" y="611.2" font-size="12.6" fill="#a5d0ca">4.74</text>
<text x="152" y="611.2" font-size="12.6" fill="#3b96e6">13.22</text>
<text x="189.8" y="611.2" font-size="12.6" fill="#ef7d22">8.47</text>
</svg>
</body></html>
